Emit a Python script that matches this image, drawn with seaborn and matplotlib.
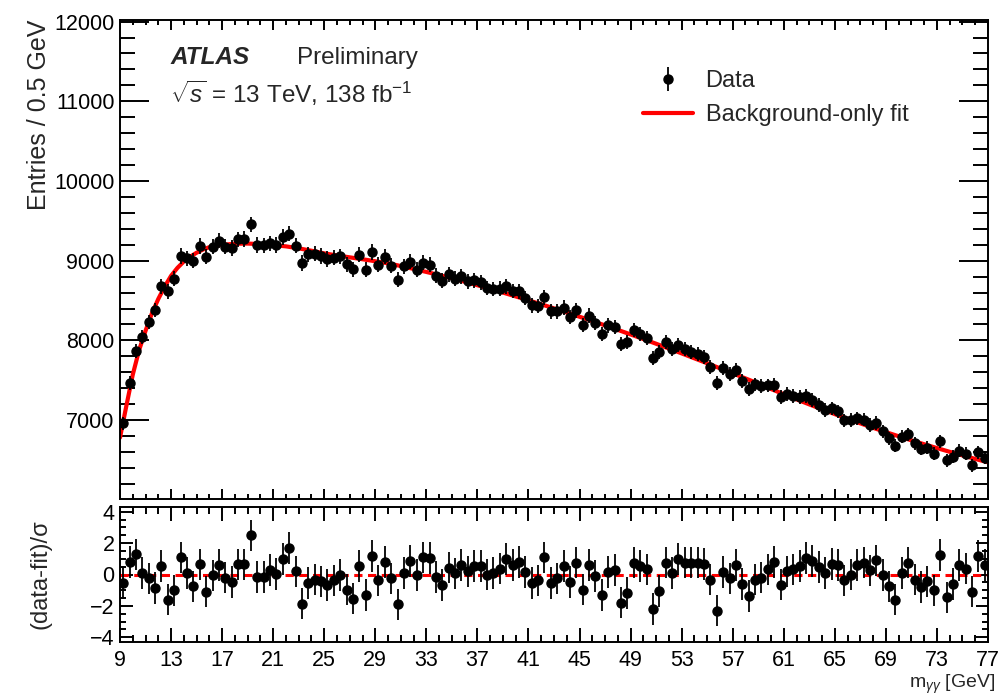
import numpy as np
import matplotlib
matplotlib.use("Agg")
import matplotlib.pyplot as plt
from matplotlib.ticker import MultipleLocator
import seaborn as sns

# binning of the diphoton mass spectrum
m_low, m_high = 9, 77
bin_width = 0.5

# entries per 0.5 GeV bin
entries = [
    6958, 7470, 7865, 8040, 8230, 8380, 8680, 8615, 8775, 9059,
    9032, 9000, 9185, 9050, 9176, 9252, 9176, 9160, 9267, 9272,
    9457, 9196, 9193, 9217, 9196, 9295, 9340, 9187, 8971, 9082,
    9086, 9059, 9021, 9037, 9056, 8957, 8891, 9074, 8889, 9110,
    8951, 9050, 8935, 8761, 8933, 8986, 8884, 8973, 8949, 8814,
    8746, 8830, 8775, 8803, 8744, 8752, 8730, 8658, 8644, 8647,
    8681, 8620, 8614, 8531, 8441, 8430, 8541, 8366, 8366, 8411,
    8294, 8378, 8196, 8311, 8220, 8084, 8189, 8171, 7956, 7984,
    8127, 8078, 8031, 7777, 7849, 7980, 7892, 7941, 7888, 7857,
    7826, 7789, 7669, 7465, 7649, 7581, 7623, 7487, 7387, 7447,
    7424, 7435, 7443, 7286, 7326, 7303, 7289, 7303, 7254, 7190,
    7128, 7147, 7110, 6999, 7002, 7023, 7007, 6939, 6964, 6859,
    6774, 6678, 6792, 6821, 6708, 6643, 6650, 6579, 6737, 6496,
    6542, 6617, 6577, 6435, 6596, 6529]

# (data-fit)/sigma per bin
pulls = [
    -0.53, 0.8, 1.28, 0.1, -0.25, -0.85, 0.53, -1.6, -1.0, 1.1,
    0.1, -0.75, 0.64, -1.1, -0.05, 0.6, -0.2, -0.47, 0.64, 0.64,
    2.5, -0.17, -0.17, 0.28, 0.04, 1.0, 1.7, 0.2, -1.85, -0.53,
    -0.32, -0.43, -0.68, -0.38, -0.04, -0.96, -1.53, 0.53, -1.3, 1.17,
    -0.38, 0.8, -0.25, -1.9, 0.1, 0.85, -0.04, 1.1, 1.06, -0.17,
    -0.68, 0.43, 0.08, 0.6, 0.2, 0.53, 0.53, 0.0, 0.1, 0.38,
    1.0, 0.6, 0.8, 0.17, -0.53, -0.38, 1.1, -0.53, -0.25, 0.53,
    -0.47, 0.75, -0.96, 0.6, -0.1, -1.3, 0.17, 0.28, -1.8, -1.17,
    0.75, 0.53, 0.32, -2.2, -1.06, 0.75, 0.1, 1.0, 0.75, 0.75,
    0.75, 0.68, -0.32, -2.3, 0.17, -0.25, 0.6, -0.6, -1.38, -0.32,
    -0.21, 0.32, 0.8, -0.64, 0.2, 0.32, 0.53, 1.06, 0.85, 0.47,
    0.1, 0.68, 0.6, -0.38, 0.0, 0.6, 0.75, 0.26, 0.9, -0.04,
    -0.75, -1.6, 0.1, 0.75, -0.32, -0.8, -0.43, -1.0, 1.23, -1.45,
    -0.6, 0.6, 0.38, -1.1, 1.17, 0.6]

fit_mass = [9, 9.5, 10, 10.5, 11, 11.5, 12, 12.5, 13, 13.5, 14, 14.5, 15, 15.5, 16,
            17, 18, 19, 20, 21, 22, 23, 24, 25, 26, 27, 28, 29, 30,
            31, 32, 33, 34, 35, 36, 37, 38, 39, 40, 41, 42, 43, 44, 45,
            46, 47, 48, 49, 50, 51, 52, 53, 54, 55, 56, 57, 58, 59, 60,
            61, 62, 63, 64, 65, 66, 67, 68, 69, 70, 71, 72, 73, 74, 75, 76, 77]
fit_value = [6780, 7180, 7570, 7880, 8120, 8340, 8520, 8675, 8810, 8910, 8990, 9050, 9100, 9140, 9170,
             9200, 9212, 9215, 9208, 9195, 9180, 9155, 9125, 9092, 9066, 9042, 9018, 8993, 8967,
             8933, 8897, 8859, 8820, 8779, 8736, 8692, 8647, 8600, 8552, 8503, 8453, 8402, 8350, 8297,
             8243, 8188, 8132, 8075, 8017, 7958, 7898, 7837, 7775, 7713, 7650, 7587, 7523, 7459, 7390,
             7325, 7260, 7197, 7135, 7075, 7016, 6959, 6903, 6849, 6797, 6746, 6697, 6649, 6602, 6557, 6513, 6470]

x_ticks = list(range(9, 78, 4))

centers = m_low + bin_width * (np.arange(len(entries)) + 0.5)
errors = np.sqrt(entries)

sns.set_theme(style="ticks")
plt.rcParams['font.family'] = ['Liberation Sans', 'DejaVu Sans']
plt.rcParams['mathtext.fontset'] = 'custom'
plt.rcParams['mathtext.rm'] = 'Liberation Sans'
plt.rcParams['mathtext.it'] = 'Liberation Sans:italic'
plt.rcParams['axes.linewidth'] = 1.4

W, H = 1006, 695
fig = plt.figure(figsize=(W / 100, H / 100), dpi=100)
ax1 = fig.add_axes([120 / W, 1 - 499 / H, 868 / W, 479 / H])
ax2 = fig.add_axes([120 / W, 1 - 642 / H, 868 / W, 135 / H])

# top panel
sns.lineplot(x=fit_mass, y=fit_value, color='red', lw=3.0, ax=ax1,
             label='Background-only fit', zorder=2)
ax1.errorbar(centers, entries, yerr=errors, fmt='o', color='black', ms=6.5,
             elinewidth=1.3, capsize=0, label='Data', zorder=3)
ax1.set_xlim(m_low, m_high)
ax1.set_ylim(6010, 12020)
ax1.set_xticks(x_ticks)
ax1.xaxis.set_minor_locator(MultipleLocator(1))
ax1.yaxis.set_major_locator(MultipleLocator(1000))
ax1.yaxis.set_minor_locator(MultipleLocator(200))
ax1.tick_params(axis='both', which='both', direction='in', top=True, right=True,
                width=1.4, colors='black')
ax1.tick_params(axis='y', which='major', length=21, labelsize=15.5, pad=4)
ax1.tick_params(axis='y', which='minor', length=10.5)
ax1.tick_params(axis='x', which='major', length=7, labelbottom=False)
ax1.tick_params(axis='x', which='minor', length=3.6)
ax1.set_ylabel('Entries / 0.5 GeV', fontsize=18, loc='top')
ax1.yaxis.set_label_coords(-0.079, 1.0)
ax1.set_xlabel('')

handles, labels = ax1.get_legend_handles_labels()
order = [labels.index('Data'), labels.index('Background-only fit')]
ax1.legend([handles[i] for i in order], [labels[i] for i in order],
           loc='upper left', bbox_to_anchor=(643 / W, 1 - 70 / H),
           bbox_transform=fig.transFigure, frameon=False, fontsize=17,
           handlelength=2.1, handletextpad=0.55, labelspacing=0.5,
           borderpad=0, borderaxespad=0)

fig.text(170 / W, 1 - 58 / H, 'ATLAS', fontsize=17.5, fontweight='bold',
         fontstyle='italic', va='center')
fig.text(297 / W, 1 - 58 / H, 'Preliminary', fontsize=17.5, va='center')
fig.text(170 / W, 1 - 93 / H, r'$\sqrt{s}$ = 13 TeV, 138 fb$^{-1}$',
         fontsize=17.5, va='center')

# bottom panel
ax2.axhline(0, color='red', lw=2.2, ls=(0, (2.7, 1.8)), zorder=1)
ax2.errorbar(centers, pulls, yerr=1.0, fmt='o', color='black', ms=6.5,
             elinewidth=1.3, capsize=0, zorder=3)
ax2.set_xlim(m_low, m_high)
ax2.set_ylim(-4.3, 4.3)
ax2.set_xticks(x_ticks)
ax2.xaxis.set_minor_locator(MultipleLocator(1))
ax2.set_yticks([-4, -2, 0, 2, 4])
ax2.yaxis.set_minor_locator(MultipleLocator(0.5))
ax2.tick_params(axis='both', which='both', direction='in', top=True, right=True,
                width=1.4, colors='black')
ax2.tick_params(axis='x', which='major', length=10, labelsize=15.5, pad=6)
ax2.tick_params(axis='x', which='minor', length=5)
ax2.tick_params(axis='y', which='major', length=9, labelsize=15.5, pad=4)
ax2.tick_params(axis='y', which='minor', length=4.5)
ax2.set_ylabel('(data-fit)/σ', fontsize=17)
ax2.yaxis.set_label_coords(-0.079, 0.5)

fig.text(995 / W, 1 - 684 / H, r'm$_{\gamma\gamma}$ [GeV]', fontsize=14,
         ha='right', va='center')

for ax in (ax1, ax2):
    for s in ax.spines.values():
        s.set_color('black')

fig.savefig('out.png', dpi=100)
